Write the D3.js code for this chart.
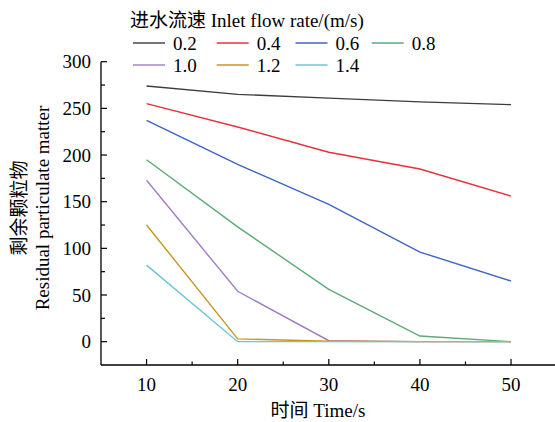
<!DOCTYPE html>
<html>
<head>
<meta charset="utf-8">
<script src="https://cdn.jsdelivr.net/npm/d3@7/dist/d3.min.js"></script>
<style>
  html, body { margin: 0; padding: 0; background: #fff; }
  svg { display: block; }
</style>
</head>
<body>
<svg id="chart" width="555" height="422"></svg>
<script>
// Sampling times (s)
const times = [10, 20, 30, 40, 50];
// Inlet flow rates (m/s), one line per rate
const rates = ["0.2", "0.4", "0.6", "0.8", "1.0", "1.2", "1.4"];
// Residual particulate matter for each flow rate
const v02 = [274, 265, 261, 257, 254];
const v04 = [255, 230, 203, 185, 156];
const v06 = [237, 190, 147, 96, 65];
const v08 = [195, 123, 56, 6, 0];
const v10 = [173, 54, 1, 0, 0];
const v12 = [125, 3, 0.5, 0, 0];
const v14 = [82, 0, 0, 0, 0];
const seriesValues = [v02, v04, v06, v08, v10, v12, v14];
const colors = ["#3c3c3c", "#e8303c", "#3c64c4", "#5aaa78", "#a07cc4", "#c8961c", "#6cc4d4"];
const xTicks = [10, 20, 30, 40, 50];
const yTicks = [0, 50, 100, 150, 200, 250, 300];

const svg = d3.select("#chart");
const plotLeft = 101, plotBottom = 365, plotTop = 61.7, plotRight = 556.6;

const x = d3.scaleLinear().domain([5, 55]).range([plotLeft, plotRight]);
const y = d3.scaleLinear().domain([-25, 300]).range([plotBottom, plotTop]);

const fontSize = 19;
const serif = "'Liberation Serif', 'Times New Roman', Times, serif";
const mixed = "'Liberation Serif', 'Times New Roman', 'Noto Sans CJK SC', serif";

// Axes with inward ticks
const xAxis = svg.append("g").attr("transform", `translate(0,${plotBottom})`);
xAxis.append("line").attr("x1", plotLeft).attr("x2", plotRight).attr("y1", 0).attr("y2", 0)
  .attr("stroke", "#000").attr("stroke-width", 1.3);
xAxis.selectAll("line.maj").data(xTicks).join("line").attr("class", "maj")
  .attr("x1", d => x(d)).attr("x2", d => x(d)).attr("y1", 0).attr("y2", -6)
  .attr("stroke", "#000").attr("stroke-width", 1.2);
xAxis.selectAll("line.min").data([15, 25, 35, 45]).join("line").attr("class", "min")
  .attr("x1", d => x(d)).attr("x2", d => x(d)).attr("y1", 0).attr("y2", -3.5)
  .attr("stroke", "#000").attr("stroke-width", 1.2);
xAxis.selectAll("text.tick").data(xTicks).join("text")
  .attr("class", "tick")
  .attr("x", d => x(d)).attr("y", 26)
  .attr("text-anchor", "middle").attr("font-size", fontSize)
  .attr("font-family", serif)
  .text(d => d);

const yAxis = svg.append("g").attr("transform", `translate(${plotLeft},0)`);
yAxis.append("line").attr("x1", 0).attr("x2", 0).attr("y1", plotTop).attr("y2", plotBottom)
  .attr("stroke", "#000").attr("stroke-width", 1.3);
yAxis.selectAll("line.maj").data(yTicks).join("line").attr("class", "maj")
  .attr("x1", 0).attr("x2", 6).attr("y1", d => y(d)).attr("y2", d => y(d))
  .attr("stroke", "#000").attr("stroke-width", 1.2);
yAxis.selectAll("line.min").data([25, 75, 125, 175, 225, 275]).join("line").attr("class", "min")
  .attr("x1", 0).attr("x2", 4).attr("y1", d => y(d)).attr("y2", d => y(d))
  .attr("stroke", "#000").attr("stroke-width", 1.2);
yAxis.selectAll("text.tick").data(yTicks).join("text")
  .attr("class", "tick")
  .attr("x", -10).attr("y", d => y(d)).attr("dy", "0.35em")
  .attr("text-anchor", "end").attr("font-size", fontSize)
  .attr("font-family", serif)
  .text(d => d);

// Axis titles
svg.append("text")
  .attr("x", 318).attr("y", 417)
  .attr("text-anchor", "middle").attr("font-size", fontSize)
  .attr("font-family", mixed)
  .text("时间 Time/s");

const yTitle = svg.append("g").attr("transform", "translate(0,208) rotate(-90)");
yTitle.append("text").attr("x", 0).attr("y", 26)
  .attr("text-anchor", "middle").attr("font-size", fontSize)
  .attr("font-family", mixed)
  .text("剩余颗粒物");
yTitle.append("text").attr("x", 0).attr("y", 49)
  .attr("text-anchor", "middle").attr("font-size", fontSize)
  .attr("font-family", serif)
  .text("Residual particulate matter");

// Lines
const line = d3.line().x((d, i) => x(times[i])).y(d => y(d));
svg.append("g").selectAll("path").data(seriesValues).join("path")
  .attr("d", d => line(d))
  .attr("fill", "none")
  .attr("stroke", (d, i) => colors[i])
  .attr("stroke-width", 1.4);

// Legend
svg.append("text").attr("x", 130).attr("y", 27).attr("font-size", fontSize)
  .attr("font-family", mixed)
  .text("进水流速 Inlet flow rate/(m/s)");
const legendCols = [133, 216.7, 295.5, 371.7];
const legend = svg.append("g").selectAll("g").data(rates).join("g")
  .attr("transform", (d, i) => `translate(${legendCols[i % 4]},${i < 4 ? 43 : 65})`);
legend.append("line").attr("x1", 0).attr("x2", 32).attr("y1", 0).attr("y2", 0)
  .attr("stroke", (d, i) => colors[i]).attr("stroke-width", 1.4);
legend.append("text").attr("x", 40).attr("y", 0).attr("dy", "0.35em")
  .attr("font-size", fontSize).attr("font-family", serif).text(d => d);
</script>
</body>
</html>
